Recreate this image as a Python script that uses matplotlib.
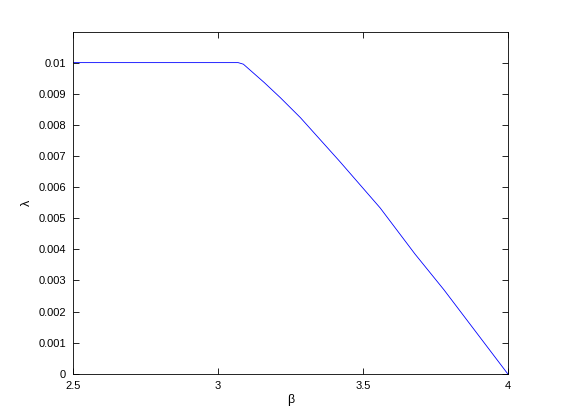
import numpy as np
import matplotlib
matplotlib.use('Agg')
import matplotlib.pyplot as plt

# values
beta = [2.5, 3.07, 3.088, 3.16, 3.216, 3.285, 3.42, 3.56, 3.68, 3.78, 4.0]
lam = [0.01, 0.01, 0.00995, 0.00936, 0.00887, 0.00823, 0.00683, 0.00533,
       0.00385, 0.0027, 0.0]

xticks = [2.5, 3, 3.5, 4]
xtick_labels = ['2.5', '3', '3.5', '4']
yticks = [0, 0.001, 0.002, 0.003, 0.004, 0.005, 0.006, 0.007, 0.008, 0.009, 0.01]
ytick_labels = ['0', '0.001', '0.002', '0.003', '0.004', '0.005',
                '0.006', '0.007', '0.008', '0.009', '0.01']

plt.rcParams['font.family'] = ['Liberation Sans', 'DejaVu Sans']

fig = plt.figure(figsize=(5.61, 4.2), dpi=100)
ax = fig.add_axes([0.13, 0.11, 0.775, 0.815])
ax.plot(beta, lam, color='blue', lw=0.6)

ax.set_xlim(2.5, 4)
ax.set_ylim(0, 0.011)
ax.set_xticks(xticks)
ax.set_xticklabels(xtick_labels)
ax.set_yticks(yticks)
ax.set_yticklabels(ytick_labels)
ax.tick_params(direction='in', top=True, right=True, length=4, width=0.6,
               labelsize=8, pad=5)
for s in ax.spines.values():
    s.set_linewidth(0.6)

ax.set_xlabel('β', fontsize=9, labelpad=2)
ax.set_ylabel('λ', fontsize=9, labelpad=4)

fig.savefig('out.png', dpi=100)
